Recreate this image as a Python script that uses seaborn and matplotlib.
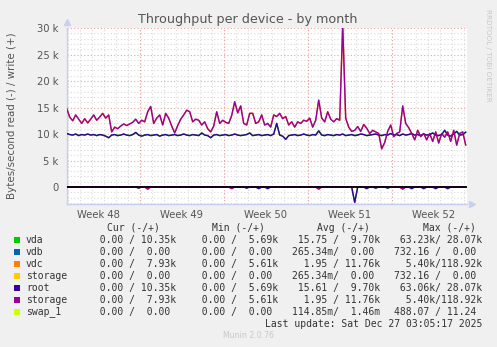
import numpy as np
import pandas as pd
import matplotlib
matplotlib.use("Agg")
import matplotlib.pyplot as plt
import seaborn as sns
from matplotlib.patches import Rectangle

# ---- data (bytes/second, sampled every 6 hours over the month) ----
STEP_DAYS = 0.25

storage_write_k = [
    14.8, 13.2, 12.5, 13.6, 12.8, 12.0, 12.9, 12.1, 12.8, 13.6,
    12.6, 13.2, 13.9, 13.0, 13.6, 10.4, 11.3, 11.0, 11.5, 11.9,
    11.6, 11.9, 12.2, 12.8, 12.0, 12.6, 12.3, 14.2, 15.2, 12.0,
    13.0, 13.6, 11.7, 13.9, 13.0, 11.5, 10.2, 11.6, 12.8, 13.6,
    14.5, 14.2, 12.3, 12.8, 12.6, 11.7, 12.3, 11.0, 10.4, 11.5,
    14.2, 12.0, 12.6, 12.2, 12.0, 13.5, 16.1, 14.0, 15.3, 12.0,
    11.7, 13.9, 13.9, 12.0, 12.3, 13.6, 11.7, 12.0, 11.3, 13.6,
    13.3, 13.9, 12.9, 13.3, 11.7, 12.3, 11.3, 12.3, 12.0, 12.6,
    12.4, 13.0, 11.3, 12.6, 16.4, 13.0, 12.3, 14.2, 12.8, 12.3,
    12.9, 12.6, 30.6, 13.0, 11.3, 10.5, 10.7, 11.4, 10.5, 11.8,
    11.1, 10.1, 10.7, 10.4, 10.1, 7.2, 8.4, 10.5, 11.7, 9.5,
    10.1, 10.4, 15.3, 12.0, 11.2, 10.1, 8.9, 10.7, 9.5, 10.1,
    8.9, 10.1, 8.6, 10.4, 8.3, 10.1, 9.4, 10.4, 8.6, 10.7,
    7.9, 10.1, 10.4, 7.93,
]

root_write_k = [
    10.1, 9.9, 9.8, 10.0, 9.7, 9.9, 9.8, 10.0, 9.8, 9.9,
    9.7, 9.9, 9.8, 9.6, 9.3, 9.8, 9.9, 9.7, 9.8, 10.0,
    9.8, 9.7, 9.9, 10.3, 9.8, 9.6, 9.8, 9.9, 9.7, 9.8,
    9.9, 9.6, 9.8, 9.9, 9.7, 9.8, 9.9, 9.7, 9.8, 10.0,
    9.8, 9.7, 9.9, 9.8, 9.7, 10.2, 9.8, 9.7, 9.3, 9.8,
    9.9, 9.7, 9.8, 9.9, 9.7, 9.8, 10.0, 9.8, 9.7, 9.8,
    9.9, 10.2, 9.7, 9.8, 9.9, 9.7, 9.8, 9.9, 9.7, 10.0,
    12.0, 9.8, 9.6, 9.0, 9.7, 9.8, 9.9, 9.7, 9.8, 10.0,
    9.8, 9.7, 9.9, 9.8, 10.6, 9.8, 9.7, 9.9, 9.8, 9.7,
    9.9, 9.8, 10.0, 9.7, 9.8, 9.9, 9.7, 9.8, 10.0, 9.9,
    9.7, 9.8, 9.9, 10.0, 9.8, 9.7, 9.9, 9.8, 10.1, 9.8,
    9.9, 9.7, 10.0, 9.8, 9.9, 10.1, 9.8, 9.9, 9.7, 10.0,
    9.8, 9.9, 10.2, 9.8, 9.7, 9.9, 10.7, 9.8, 9.6, 10.0,
    10.5, 9.8, 9.9, 10.35,
]

# occasional read bursts (sample index, k bytes/s)
root_read_idx = [24, 60, 64, 67, 96, 100, 103, 107, 115, 119, 123, 127]
root_read_k = [0.2, 0.2, 0.3, 0.3, 2.9, 0.3, 0.2, 0.2, 0.3, 0.3, 0.3, 0.3]
storage_read_idx = [27, 55, 84, 112]
storage_read_k = [0.4, 0.3, 0.4, 0.4]

# ---- legend table ----
device_names = ["vda", "vdb", "vdc", "storage", "root", "storage", "swap_1"]
device_keys = ["vda", "vdb", "vdc", "storage_a", "root", "storage_b", "swap_1"]
device_colors = ["#00CC00", "#0066B3", "#FF8000", "#FFCC00",
                 "#330099", "#990099", "#CCFF00"]
cur_col = ["  0.00 / 10.35k", "  0.00 /  0.00 ", "  0.00 /  7.93k",
           "  0.00 /  0.00 ", "  0.00 / 10.35k", "  0.00 /  7.93k",
           "  0.00 /  0.00 "]
min_col = ["  0.00 /  5.69k", "  0.00 /  0.00 ", "  0.00 /  5.61k",
           "  0.00 /  0.00 ", "  0.00 /  5.69k", "  0.00 /  5.61k",
           "  0.00 /  0.00 "]
avg_col = [" 15.75 /  9.70k", "265.34m/  0.00 ", "  1.95 / 11.76k",
           "265.34m/  0.00 ", " 15.61 /  9.70k", "  1.95 / 11.76k",
           "114.85m/  1.46m"]
max_col = [" 63.23k/ 28.07k", "732.16 /  0.00 ", "  5.40k/118.92k",
           "732.16 /  0.00 ", " 63.06k/ 28.07k", "  5.40k/118.92k",
           "488.07 / 11.24 "]
col_headers = ["Cur (-/+)", "Min (-/+)", "Avg (-/+)", "Max (-/+)"]

title = "Throughput per device - by month"
ylabel = "Bytes/second read (-) / write (+)"
week_labels = ["Week 48", "Week 49", "Week 50", "Week 51", "Week 52"]
y_ticks_k = [0, 5, 10, 15, 20, 25, 30]
last_update = "Last update: Sat Dec 27 03:05:17 2025"
footer = "Munin 2.0.76"
side_text = "RRDTOOL / TOBI OETIKER"

# ---- build long-form table (devices with traffic only) ----
def series(values_k):
    return np.asarray(values_k, dtype=float) * 1000.0

def sparse(n, idx, vals_k):
    out = np.zeros(n)
    out[np.asarray(idx)] = np.asarray(vals_k) * 1000.0
    return out

n = len(storage_write_k)
sw = series(storage_write_k)
rw = series(root_write_k)
sr = sparse(n, storage_read_idx, storage_read_k)
rr = sparse(len(rw), root_read_idx, root_read_k)

per_device = {"vda": (rw, rr), "vdc": (sw, sr),
              "root": (rw, rr), "storage_b": (sw, sr)}
plot_keys = [k for k in device_keys if k in per_device]
frames = []
for key in plot_keys:
    w, r = per_device[key]
    days_w = np.arange(len(w)) * STEP_DAYS
    days_r = np.arange(len(r)) * STEP_DAYS
    frames.append(pd.DataFrame({"day": days_w, "value": w, "device": key, "dir": "write"}))
    frames.append(pd.DataFrame({"day": days_r, "value": -r, "device": key, "dir": "read"}))
df = pd.concat(frames, ignore_index=True)

# ---- figure ----
W, H = 497, 347
fig = plt.figure(figsize=(W / 100, H / 100), dpi=100, facecolor="#F0F0F0")
px_left, px_right, px_top, px_bot = 66.7, 467.0, 28.0, 204.0
ax = fig.add_axes([px_left / W, 1 - px_bot / H,
                   (px_right - px_left) / W, (px_bot - px_top) / H])
ax.set_facecolor("white")

x_max = (px_right - px_left) / 12.0
y_min, y_max = -3200, 30000
ax.set_xlim(0, x_max)
ax.set_ylim(y_min, y_max)

# grid: daily / 1k minor dotted, weekly / 5k major dotted red
dot = (0, (1, 2))
day0 = (140 - px_left) / 12.0 - 6
for d in np.arange(day0, x_max, 1.0):
    if d <= 0.05:
        continue
    ax.axvline(d, color="#DADADA", lw=0.8, ls=dot, zorder=0)
for v in range(-3000, 30000, 1000):
    if v % 5000 != 0:
        ax.axhline(v, color="#DADADA", lw=0.8, ls=dot, zorder=0)
week_starts = [day0 + 6 + 7 * k for k in range(4)]
for d in week_starts:
    ax.axvline(d, color="#F2A0A0", lw=0.8, ls=dot, zorder=0.5)
for v in y_ticks_k[1:]:
    ax.axhline(v * 1000, color="#F2A0A0", lw=0.8, ls=dot, zorder=0.5)

palette = {k: c for k, c in zip(device_keys, device_colors) if k in per_device}
sns.lineplot(data=df, x="day", y="value", hue="device", units="dir",
             estimator=None, sort=False, hue_order=plot_keys,
             palette=palette, linewidth=1.0, legend=False, ax=ax, zorder=3)

ax.axhline(0, color="black", lw=1.2, zorder=6)

# axes styling
for s in ["top", "right"]:
    ax.spines[s].set_visible(False)
axis_col = "#C8D0F0"
for s in ["left", "bottom"]:
    ax.spines[s].set_color(axis_col)
    ax.spines[s].set_linewidth(1.0)
ax.plot([0], [y_max + 1100], marker="^", color=axis_col, markersize=5,
        clip_on=False, zorder=7)
ax.plot([x_max + 0.45], [y_min], marker=">", color=axis_col, markersize=5,
        clip_on=False, zorder=7)

ax.set_yticks([v * 1000 for v in y_ticks_k])
ax.set_yticklabels(["0" if v == 0 else f"{v} k" for v in y_ticks_k])
week_mid = [day0 + 2.5 + 7 * k for k in range(5)]
ax.set_xticks(week_mid)
ax.set_xticklabels(week_labels)
ax.tick_params(axis="both", length=0, labelsize=7.2, labelcolor="#555555")
ax.tick_params(axis="y", pad=6)
ax.tick_params(axis="x", pad=4)
ax.set_xlabel("")
ax.set_ylabel("")

fig.text(248 / W, 1 - 19 / H, title, ha="center", va="center",
         fontsize=9.2, color="#555555")
fig.text(12 / W, 1 - 116 / H, ylabel, ha="center", va="center",
         rotation=90, fontsize=7.4, color="#555555")
fig.text(488 / W, 1 - 55 / H, side_text, ha="center", va="center",
         rotation=270, fontsize=5.2, color="#C8C8C8")

# legend table
mono = "DejaVu Sans Mono"
fs = 7.05
txt_col = "#333333"
header_cx = [133.6, 238.7, 343.7, 449.0]
for cx, h in zip(header_cx, col_headers):
    fig.text(cx / W, 1 - 228 / H, h, ha="center", va="center",
             family=mono, fontsize=fs, color=txt_col)
rows_y = [240, 251.7, 263.7, 276, 287.7, 299.7, 312]
col_x = [87.5, 189.9, 291.7, 394.3]
for i, y in enumerate(rows_y):
    fig.add_artist(Rectangle(((14) / W, 1 - (y + 3) / H), 6 / W, 6 / H,
                             transform=fig.transFigure,
                             facecolor=device_colors[i], edgecolor="none"))
    fig.text(26 / W, 1 - y / H, device_names[i], ha="left", va="center",
             family=mono, fontsize=fs, color=txt_col)
    for cx, col in zip(col_x, [cur_col, min_col, avg_col, max_col]):
        fig.text(cx / W, 1 - y / H, col[i], ha="left", va="center",
                 family=mono, fontsize=fs, color=txt_col)
fig.text(482.7 / W, 1 - 323.7 / H, last_update, ha="right", va="center",
         family=mono, fontsize=fs, color=txt_col)
fig.text(248 / W, 1 - 336 / H, footer, ha="center", va="center",
         fontsize=5.6, color="#C8C8C8")

fig.savefig("out.png", dpi=100, facecolor=fig.get_facecolor())
